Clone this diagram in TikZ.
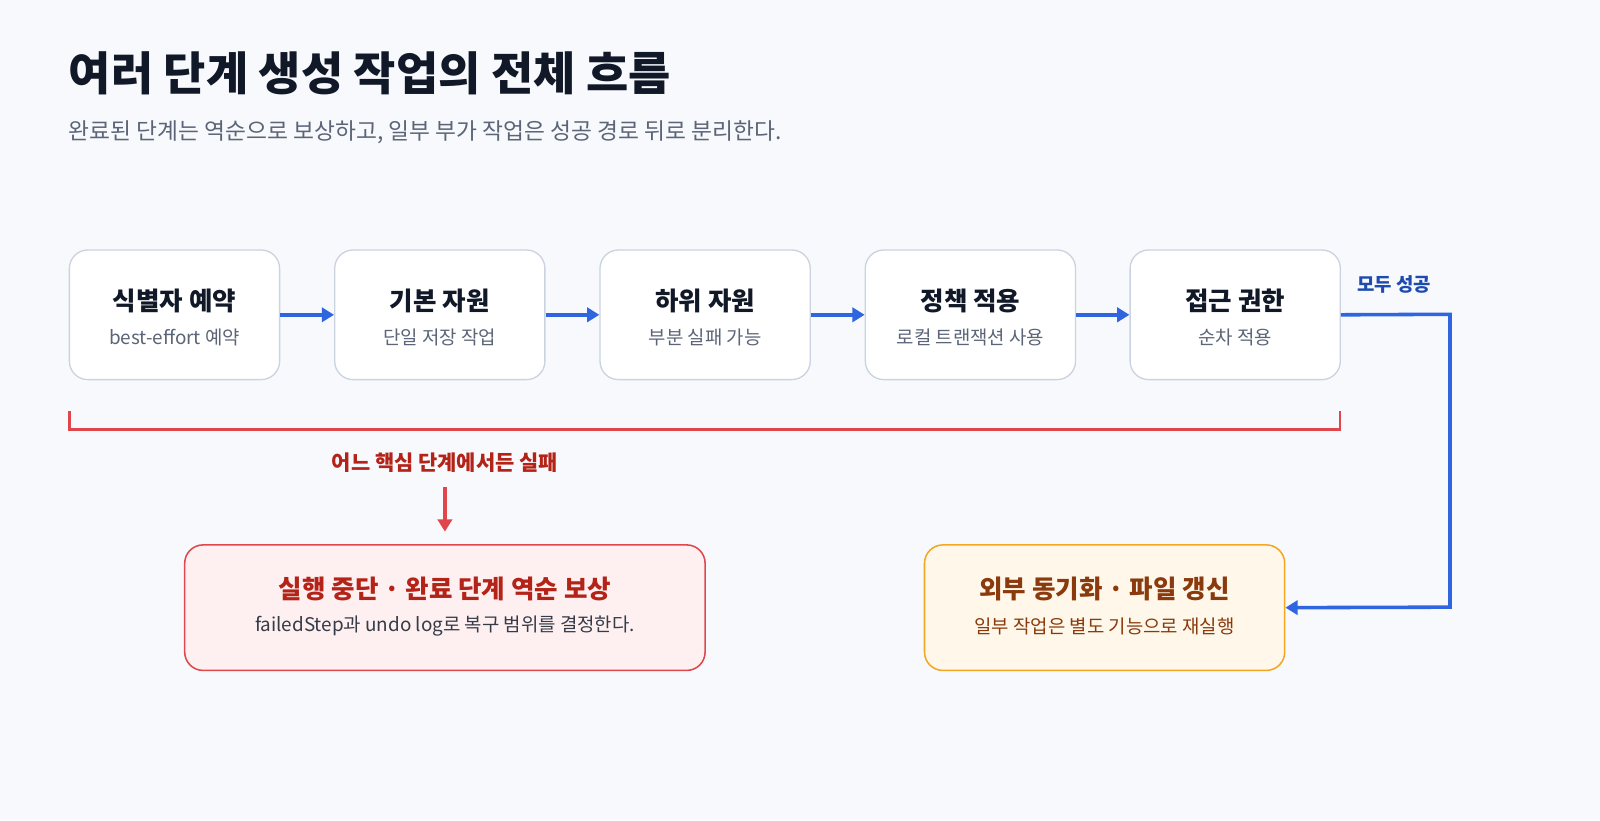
\documentclass[tikz,border=0pt]{standalone}
\usepackage{fontspec}
\setmainfont{Noto Sans CJK KR}
\usetikzlibrary{arrows.meta}
\definecolor{bg}{HTML}{F7F9FC}
\definecolor{ink}{HTML}{111827}
\definecolor{gray}{HTML}{5B6577}
\definecolor{bord}{HTML}{CBD3E0}
\definecolor{blue}{HTML}{2F66E0}
\definecolor{bluet}{HTML}{1D4BB0}
\definecolor{red}{HTML}{E0474C}
\definecolor{redt}{HTML}{B42318}
\definecolor{redf}{HTML}{FEF0F1}
\definecolor{org}{HTML}{F5A623}
\definecolor{orgf}{HTML}{FFF8EA}
\definecolor{orgt}{HTML}{8A3A0C}
\tikzset{
 stepbox/.style={draw=bord,line width=1.3pt,fill=white,rounded corners=18pt,minimum width=206pt,minimum height=127pt},
 ttl/.style={font=\fontsize{25}{29}\selectfont\bfseries,text=ink},
 sub/.style={font=\fontsize{18.5}{22}\selectfont,text=gray},
 flow/.style={draw=blue,line width=3.5pt,-{Triangle[length=12pt,width=14pt]}},
}
\begin{document}
\begin{tikzpicture}[x=1pt,y=-1pt]
\fill[bg] (0,0) rectangle (1568,804);
\useasboundingbox (0,0) rectangle (1568,804);
\node[anchor=west,font=\fontsize{45}{50}\selectfont\bfseries,text=ink] (title) at (64,72) {여러 단계 생성 작업의 전체 흐름};
\node[anchor=west,font=\fontsize{22.3}{26}\selectfont,text=gray] (subt) at (64,130) {완료된 단계는 역순으로 보상하고, 일부 부가 작업은 성공 경로 뒤로 분리한다.};
\foreach \i/\x/\t/\s in {1/171/식별자 예약/best-effort 예약,2/431/기본 자원/단일 저장 작업,3/691/하위 자원/부분 실패 가능,4/951/정책 적용/로컬 트랜잭션 사용,5/1210.5/접근 권한/순차 적용}{
 \node[stepbox] (b\i) at (\x,308.5) {};
 \node[ttl] (t\i) at (\x,295) {\t};
 \node[sub] (s\i) at (\x,331) {\s};
}
\foreach \a/\b in {1/2,2/3,3/4,4/5}{\draw[flow] (b\a.east) -- (b\b.west);}
\coordinate (k1) at (68,403); \coordinate (k2) at (1313,403);
\draw[red,line width=2.5pt] (k1) -- (68,421) -- (1313,421) -- (k2);
\node[font=\fontsize{20.5}{24}\selectfont\bfseries,text=redt] (fail) at (436,453) {어느 핵심 단계에서든 실패};
\node[draw=red,line width=1.5pt,fill=redf,rounded corners=18pt,minimum width=510pt,minimum height=123pt] (rb) at (436,595.5) {};
\node[font=\fontsize{25}{29}\selectfont\bfseries,text=redt] at (436,577) {실행 중단 · 완료 단계 역순 보상};
\node[font=\fontsize{18.5}{22}\selectfont,text=ink!85] at (436,614) {failedStep과 undo log로 복구 범위를 결정한다.};
\coordinate (fa) at (436,477); \coordinate (fb) at (436,521);
\draw[red,line width=3.5pt,-{Triangle[length=12pt,width=14pt]}] (fa) -- (fb);
\node[draw=org,line width=1.5pt,fill=orgf,rounded corners=18pt,minimum width=353pt,minimum height=123pt] (ob) at (1082.5,595.5) {};
\node[font=\fontsize{25}{29}\selectfont\bfseries,text=orgt] at (1082.5,577) {외부 동기화 · 파일 갱신};
\node[font=\fontsize{18.5}{22}\selectfont,text=orgt] at (1082.5,614) {일부 작업은 별도 기능으로 재실행};
\draw[flow] (b5.east) -- (1421,308) -- (1421,595) -- (ob.east);
\node[font=\fontsize{18.5}{22}\selectfont\bfseries,text=bluet] at (1366,279) {모두 성공};
\end{tikzpicture}
\end{document}
